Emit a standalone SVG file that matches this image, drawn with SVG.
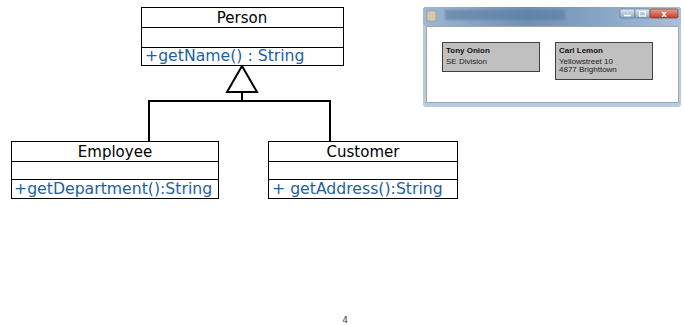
<svg xmlns="http://www.w3.org/2000/svg" width="684" height="325" viewBox="0 0 684 325">
  <style>
    .box { fill: #ffffff; stroke: #000000; stroke-width: 1; }
    .sep { stroke: #000000; stroke-width: 1; }
    .name { font-family: "DejaVu Sans", sans-serif; font-size: 15px; fill: #000000; text-anchor: middle; }
    .op { font-family: "DejaVu Sans", sans-serif; font-size: 15.7px; fill: #1f5fa0; }
    .edge { fill: none; stroke: #000000; stroke-width: 2; }
    .card { fill: #c0c0c0; stroke: #404040; stroke-width: 1; }
    .cardtitle { font-family: "Liberation Sans", Arial, sans-serif; font-size: 8px; font-weight: bold; fill: #111111; }
    .cardtext { font-family: "Liberation Sans", Arial, sans-serif; font-size: 8px; fill: #222222; }
  </style>
  <defs>
    <linearGradient id="titlebar" x1="0" y1="0" x2="1" y2="0">
      <stop offset="0" stop-color="#9fb8d3"/>
      <stop offset="0.4" stop-color="#6f8fb3"/>
      <stop offset="0.7" stop-color="#8aa6c6"/>
      <stop offset="1" stop-color="#a8c0da"/>
    </linearGradient>
    <linearGradient id="closebtn" x1="0" y1="0" x2="0" y2="1">
      <stop offset="0" stop-color="#e8a090"/>
      <stop offset="1" stop-color="#c0412a"/>
    </linearGradient>
    <linearGradient id="btn" x1="0" y1="0" x2="0" y2="1">
      <stop offset="0" stop-color="#dfe8f2"/>
      <stop offset="1" stop-color="#8ea8c4"/>
    </linearGradient>
    <filter id="soft" x="-5%" y="-20%" width="110%" height="140%">
      <feGaussianBlur stdDeviation="1.2"/>
    </filter>
  </defs>

  <!-- generalization connectors -->
  <g id="connectors">
    <polyline class="edge" points="149,141 149,101 330,101 330,141"/>
    <line class="edge" x1="242" y1="92" x2="242" y2="101"/>
    <polygon points="242,66 227,92 257,92" fill="#ffffff" stroke="#000000" stroke-width="2"/>
  </g>

  <g id="person">
    <rect class="box" x="141.5" y="7.5" width="202" height="58"/>
    <line class="sep" x1="141.5" y1="27.5" x2="343.5" y2="27.5"/>
    <line class="sep" x1="141.5" y1="47.5" x2="343.5" y2="47.5"/>
    <text class="name" x="242" y="23">Person</text>
    <text class="op" x="145" y="61">+getName() : String</text>
  </g>

  <g id="employee">
    <rect class="box" x="11.5" y="141.5" width="207" height="57"/>
    <line class="sep" x1="11.5" y1="161.5" x2="218.5" y2="161.5"/>
    <line class="sep" x1="11.5" y1="179.5" x2="218.5" y2="179.5"/>
    <text class="name" x="115" y="157">Employee</text>
    <text class="op" x="14" y="194">+getDepartment():String</text>
  </g>

  <g id="customer">
    <rect class="box" x="268.5" y="141.5" width="189" height="57"/>
    <line class="sep" x1="268.5" y1="161.5" x2="457.5" y2="161.5"/>
    <line class="sep" x1="268.5" y1="179.5" x2="457.5" y2="179.5"/>
    <text class="name" x="363" y="157">Customer</text>
    <text class="op" x="272" y="194">+ getAddress():String</text>
  </g>

  <!-- application window screenshot -->
  <g id="window">
    <rect x="423" y="7" width="258" height="100" rx="3" fill="#b7cbe0"/>
    <rect x="423" y="7" width="258" height="19" rx="3" fill="url(#titlebar)"/>
    <rect x="445" y="10" width="120" height="10" fill="#5a7ca3" opacity="0.6" filter="url(#soft)"/>
    <rect x="427" y="11" width="9" height="10" fill="#d8c9a8" stroke="#7a8a9a" stroke-width="0.5"/>
    <rect x="620" y="9" width="15" height="9" rx="1.5" fill="url(#btn)" stroke="#4f6f90" stroke-width="0.6"/>
    <rect x="635" y="9" width="15" height="9" rx="1.5" fill="url(#btn)" stroke="#4f6f90" stroke-width="0.6"/>
    <rect x="650" y="9" width="28" height="9" rx="1.5" fill="url(#closebtn)" stroke="#7a2a1a" stroke-width="0.6"/>
    <line x1="624" y1="15.5" x2="631" y2="15.5" stroke="#ffffff" stroke-width="1.5"/>
    <rect x="639.5" y="11.5" width="6" height="4.5" fill="none" stroke="#ffffff" stroke-width="1.2"/>
    <text x="664" y="17" font-family="DejaVu Sans, sans-serif" font-size="8" font-weight="bold" fill="#ffffff" text-anchor="middle">x</text>
    <rect x="426.5" y="26.5" width="252" height="76" fill="#ffffff" stroke="#a0a8b0" stroke-width="1"/>
  </g>

  <g id="card-tony">
    <rect class="card" x="442.5" y="42.5" width="97" height="29"/>
    <text class="cardtitle" x="446" y="53">Tony Onion</text>
    <text class="cardtext" x="446" y="64">SE Division</text>
  </g>

  <g id="card-carl">
    <rect class="card" x="555.5" y="42.5" width="97" height="37"/>
    <text class="cardtitle" x="559" y="53">Carl Lemon</text>
    <text class="cardtext" x="559" y="64">Yellowstreet 10</text>
    <text class="cardtext" x="559" y="72">4877 Brighttown</text>
  </g>

  <text x="345" y="323" font-family="DejaVu Sans, sans-serif" font-size="9" fill="#444444" text-anchor="middle">4</text>
</svg>
